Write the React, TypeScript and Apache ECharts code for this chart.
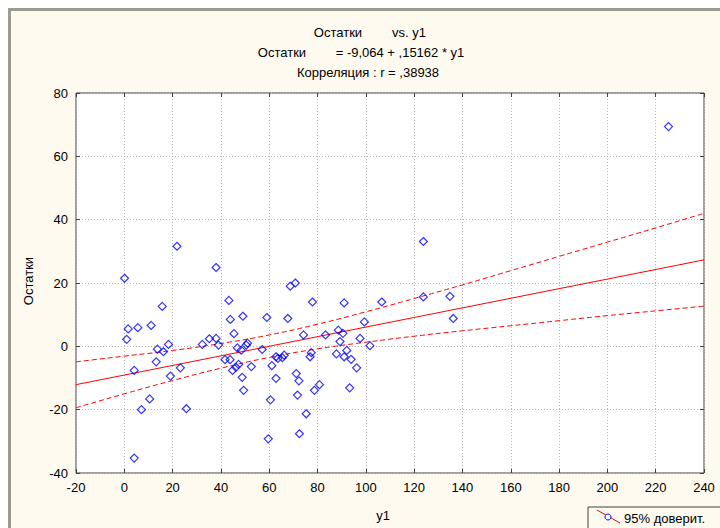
import React, { useEffect, useRef } from "react";
import * as echarts from "echarts";

const residX = [0.1, 1.0, 1.6, 4.1, 4.1, 5.6, 7.1, 10.5, 11.1, 13.2, 13.7, 15.7, 16.2, 18.3, 19.1, 21.8, 23.2, 25.7, 32.3, 35.2, 38.0, 38.0, 39.0, 41.7, 43.3, 43.8, 43.9, 44.8, 45.4, 46.2, 46.8, 47.3, 48.4, 48.8, 49.1, 49.4, 50.5, 51.0, 52.6, 57.1, 59.0, 59.6, 60.5, 61.1, 62.8, 62.8, 63.6, 65.4, 66.2, 67.7, 68.7, 70.8, 71.2, 71.7, 72.3, 72.5, 74.2, 75.3, 76.9, 77.4, 77.9, 78.7, 80.8, 83.3, 87.8, 88.6, 89.3, 90.5, 91.0, 91.0, 92.1, 93.3, 93.9, 96.2, 97.6, 99.4, 101.7, 106.6, 123.8, 123.8, 134.8, 136.2, 225.3];
const residY = [21.5, 2.2, 5.5, -7.6, -35.3, 5.9, -20.0, -16.6, 6.6, -4.9, -0.9, 12.6, -1.7, 0.6, -9.4, 31.6, -6.8, -19.7, 0.6, 2.4, 24.9, 2.5, 0.4, -4.2, 14.5, -4.2, 8.5, -7.6, 4.0, -6.6, -0.5, -5.7, -1.2, -9.8, 9.5, -13.9, 0.4, 1.0, -6.4, -1.0, 9.1, -29.2, -16.9, -6.1, -3.3, -10.1, -3.8, -3.6, -2.8, 8.8, 19.0, 20.0, -8.6, -15.4, -10.9, -27.6, 3.6, -21.3, -3.3, -2.0, 14.0, -13.9, -12.1, 3.6, -2.4, 5.1, 1.5, 4.1, 13.7, -3.3, -1.3, -13.1, -4.1, -6.8, 2.5, 7.7, 0.2, 14.0, 15.6, 33.1, 15.8, 8.8, 69.4];

const fitX = [-20, 240];
const fitY = [-12.1, 27.3];

const bandX = [-20, 0, 20, 40, 60, 80, 100, 120, 140, 160, 180, 200, 220, 240];
const bandUpper = [-4.9, -3.1, -1.3, 0.9, 3.6, 7.0, 10.9, 15.1, 19.4, 23.9, 28.4, 32.9, 37.4, 42.0];
const bandLower = [-19.4, -15.0, -10.8, -6.9, -3.5, -0.8, 1.3, 3.2, 4.9, 6.5, 8.1, 9.7, 11.2, 12.7];

const titleLine1 = ["Остатки", "vs. y1"];
const titleLine2 = ["Остатки", "= -9,064 + ,15162 * y1"];
const titleLine3 = "Корреляция : r = ,38938";
const xName = "y1";
const yName = "Остатки";
const legendText = "95% доверит.";

const FONT = "'Liberation Sans', Arial, sans-serif";
const BG = "#FEFAEF";

export default function App() {
  const ref = useRef<HTMLDivElement>(null);

  useEffect(() => {
    if (!ref.current) return;
    const chart = echarts.init(ref.current, null, { renderer: "svg" });

    const zip = (xs: number[], ys: number[]) => xs.map((x, i) => [x, ys[i]]);

    const txt = (text: string, x: number, y: number, align: string = "center", extra: any = {}) => ({
      type: "text",
      x,
      y,
      style: {
        text,
        fontFamily: FONT,
        fontSize: 13,
        fill: "#000",
        textAlign: align,
        textVerticalAlign: "middle",
      },
      ...extra,
    });

    const axisCommon = {
      type: "value",
      axisLine: { show: false, onZero: false },
      axisTick: { show: true, inside: true, length: 4, lineStyle: { color: "#404040" } },
      axisLabel: { color: "#000", fontFamily: FONT, fontSize: 13 },
      splitLine: { show: true, lineStyle: { color: "#B8B8B8", type: [1, 2], width: 1 } },
    };

    chart.setOption({
      animation: false,
      backgroundColor: BG,
      grid: {
        left: 65,
        top: 82,
        width: 628,
        height: 380,
        show: true,
        backgroundColor: "#FFFFFF",
        borderColor: "#404040",
        borderWidth: 1,
      },
      xAxis: [
        { ...axisCommon, min: -20, max: 240, interval: 20, axisLabel: { ...axisCommon.axisLabel, margin: 8 } },
        { ...axisCommon, position: "top", min: -20, max: 240, interval: 20, axisLabel: { show: false }, splitLine: { show: false } },
      ],
      yAxis: [
        { ...axisCommon, min: -40, max: 80, interval: 20, axisLabel: { ...axisCommon.axisLabel, margin: 8 } },
        { ...axisCommon, position: "right", min: -40, max: 80, interval: 20, axisLabel: { show: false }, splitLine: { show: false } },
      ],
      series: [
        {
          type: "line",
          data: zip(bandX, bandUpper),
          smooth: true,
          showSymbol: false,
          lineStyle: { color: "#FF0000", width: 1, type: [5, 3] },
          silent: true,
        },
        {
          type: "line",
          data: zip(bandX, bandLower),
          smooth: true,
          showSymbol: false,
          lineStyle: { color: "#FF0000", width: 1, type: [5, 3] },
          silent: true,
        },
        {
          type: "line",
          data: zip(fitX, fitY),
          showSymbol: false,
          lineStyle: { color: "#FF0000", width: 1 },
          silent: true,
        },
        {
          type: "scatter",
          data: zip(residX, residY),
          symbol: "diamond",
          symbolSize: 8,
          itemStyle: { color: "rgba(0,0,0,0)", borderColor: "#0000FF", borderWidth: 1.2 },
          z: 5,
        },
      ],
      graphic: [
        txt(titleLine1[0], 327, 21),
        txt(titleLine1[1], 398, 21),
        txt(titleLine2[0], 271, 41),
        txt(titleLine2[1], 389, 41),
        txt(titleLine3, 357, 61),
        txt(xName, 372, 504),
        txt(yName, 17, 270, "center", { rotation: Math.PI / 2 }),
        {
          type: "rect",
          shape: { x: 577, y: 496, width: 200, height: 40 },
          style: { fill: BG, stroke: "#404040", lineWidth: 1 },
        },
        {
          type: "line",
          shape: { x1: 586, y1: 499, x2: 609, y2: 512 },
          style: { stroke: "#FF0000", lineWidth: 1 },
        },
        {
          type: "circle",
          shape: { cx: 597, cy: 506, r: 3 },
          style: { fill: BG, stroke: "#0000FF", lineWidth: 1 },
        },
        txt(legendText, 613, 507, "left"),
      ],
    });

    return () => chart.dispose();
  }, []);

  return (
    <div
      style={{
        position: "fixed",
        left: 8,
        top: 8,
        width: 712,
        height: 520,
        boxSizing: "border-box",
        borderLeft: "3px solid #9C9C8E",
        borderTop: "3px solid #9C9C8E",
        background: BG,
        overflow: "hidden",
      }}
    >
      <div ref={ref} style={{ width: 709, height: 517 }} />
    </div>
  );
}
